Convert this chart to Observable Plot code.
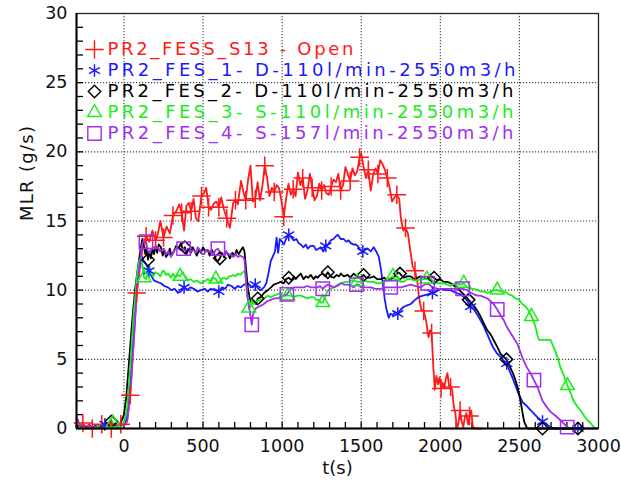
<!DOCTYPE html>
<html>
<head>
<meta charset="utf-8">
<script src="https://cdn.jsdelivr.net/npm/d3@7"></script>
<script src="https://cdn.jsdelivr.net/npm/@observablehq/plot@0.6"></script>
<style>
  html, body { margin: 0; padding: 0; background: #fff; }
  #chart svg { display: block; }
</style>
</head>
<body>
<div id="chart"></div>
<script>
// Mass loss rate (g/s) against time (s), one [t, MLR] list per test.
const s13 = [[-300,0.3],[-280,0.1],[-260,0.4],[-240,0.1],[-220,0.3],[-200,0.0],[-180,0.2],[-160,0.0],[-140,0.3],[-120,0.1],[-100,0.2],[-80,0.0],[-60,0.2],[-40,0.1],[-20,0.3],[0,0.2],[20,0.6],[40,2.4],[60,6.0],[80,9.8],[100,11.5],[120,13.2],[140,13.9],[160,13.5],[180,14.3],[200,13.6],[215,14.1],[230,15.0],[250,13.8],[270,14.6],[290,14.1],[310,15.4],[330,15.7],[350,16.2],[365,15.6],[380,14.3],[395,16.1],[410,16.3],[425,15.7],[440,16.6],[455,15.2],[470,15.0],[490,16.8],[505,17.0],[520,17.4],[535,16.0],[550,15.8],[570,16.3],[585,16.4],[600,16.0],[615,16.7],[630,15.9],[650,15.2],[670,14.5],[690,16.3],[705,16.5],[720,16.2],[740,17.9],[755,17.1],[770,16.5],[785,18.0],[800,19.0],[815,16.4],[830,16.6],[845,17.8],[860,16.5],[875,17.5],[890,19.0],[905,18.1],[920,16.8],[935,17.4],[950,17.1],[965,17.6],[980,17.4],[995,16.5],[1010,15.3],[1025,16.6],[1040,17.7],[1055,16.9],[1070,17.3],[1085,16.8],[1100,18.5],[1115,17.6],[1130,18.1],[1145,16.6],[1160,17.2],[1175,18.4],[1190,17.4],[1205,16.5],[1220,16.8],[1235,17.7],[1250,17.2],[1265,17.6],[1280,17.0],[1295,16.9],[1310,17.5],[1325,18.0],[1340,17.8],[1355,18.4],[1370,17.2],[1385,17.6],[1400,18.9],[1415,18.4],[1430,17.9],[1445,18.8],[1460,18.3],[1475,18.6],[1490,19.6],[1500,19.9],[1515,18.9],[1530,18.1],[1545,18.7],[1560,17.2],[1575,18.3],[1590,18.8],[1605,18.4],[1620,19.4],[1635,19.1],[1650,18.7],[1665,18.1],[1680,17.4],[1695,16.4],[1710,16.7],[1725,16.9],[1740,16.6],[1750,15.3],[1765,14.3],[1780,14.5],[1795,14.1],[1810,12.9],[1825,11.7],[1840,11.4],[1855,10.6],[1865,9.5],[1880,8.6],[1895,8.5],[1910,7.8],[1925,6.6],[1935,7.1],[1945,6.9],[1955,4.6],[1965,2.8],[1975,3.8],[1985,3.2],[1995,3.7],[2005,2.9],[2015,3.3],[2025,2.9],[2035,3.6],[2045,4.0],[2055,3.1],[2065,3.0],[2075,2.8],[2085,1.6],[2095,1.1],[2105,0.0],[2115,0.4],[2125,1.3],[2135,0.5],[2145,0.1],[2155,0.8],[2165,1.1],[2175,0.3],[2185,0.9],[2195,1.3],[2205,0.2],[2215,0.0],[2260,0.0]];

const fes1 = [[-300,0.2],[-280,0.0],[-260,0.1],[-240,0.0],[-220,0.1],[-200,0.0],[-180,0.2],[-160,0.1],[-140,0.0],[-120,0.3],[-100,0.2],[-80,0.4],[-60,0.1],[-40,0.3],[-20,0.2],[0,0.3],[20,0.8],[40,3.5],[60,7.5],[80,10.5],[100,11.8],[115,12.4],[125,12.1],[140,11.9],[158,11.4],[175,11.0],[190,10.7],[210,10.6],[234,10.5],[255,10.3],[278,10.2],[300,10.0],[320,10.1],[341,9.8],[360,9.9],[380,10.2],[400,10.0],[420,10.2],[442,10.1],[465,9.9],[486,10.0],[510,10.1],[530,9.9],[549,10.1],[575,10.0],[600,9.9],[620,10.2],[640,10.1],[657,10.4],[680,10.3],[700,10.1],[720,10.3],[739,10.2],[760,10.4],[783,10.5],[800,10.3],[814,10.2],[830,10.4],[850,10.1],[865,10.0],[885,10.2],[900,10.5],[915,11.3],[928,12.1],[940,12.4],[955,12.8],[965,13.8],[975,12.7],[985,13.7],[1000,13.5],[1011,13.3],[1025,13.7],[1042,14.0],[1060,13.8],[1074,13.6],[1090,13.7],[1105,13.4],[1118,13.3],[1135,13.1],[1150,13.3],[1162,13.0],[1180,13.2],[1200,13.2],[1215,12.9],[1230,13.0],[1244,13.1],[1260,12.8],[1276,13.2],[1290,13.3],[1307,13.6],[1325,13.7],[1340,13.9],[1352,14.0],[1370,13.7],[1389,13.7],[1405,13.5],[1420,13.6],[1434,13.4],[1450,13.3],[1465,13.3],[1478,13.2],[1495,12.9],[1510,12.8],[1525,13.0],[1541,13.0],[1560,12.8],[1579,13.1],[1595,12.8],[1611,12.4],[1625,11.5],[1636,10.5],[1648,9.4],[1660,8.6],[1674,8.0],[1685,8.3],[1699,8.2],[1715,8.4],[1731,8.3],[1750,8.6],[1769,8.8],[1790,8.9],[1813,9.0],[1840,9.3],[1863,9.5],[1890,9.6],[1920,9.7],[1950,9.8],[1975,9.9],[2002,10.1],[2030,10.0],[2065,10.0],[2100,9.8],[2128,9.7],[2150,9.5],[2172,9.2],[2191,8.8],[2212,8.6],[2235,8.2],[2255,7.8],[2274,7.4],[2297,6.8],[2320,6.2],[2337,5.8],[2360,5.4],[2380,5.2],[2402,4.9],[2420,4.7],[2440,4.1],[2455,3.7],[2475,3.1],[2495,2.5],[2520,1.9],[2540,1.7],[2565,1.4],[2590,1.1],[2615,0.8],[2646,0.5],[2670,0.3],[2697,0.1],[2720,0.0],[2870,0.0],[2900,0.0]];

const fes2 = [[-300,0.1],[-280,0.2],[-260,0.0],[-240,0.1],[-220,0.0],[-200,0.1],[-180,0.0],[-160,0.2],[-140,0.1],[-120,0.0],[-100,0.3],[-80,0.5],[-60,0.3],[-40,0.2],[-20,0.4],[0,1.0],[15,2.3],[30,4.5],[50,7.5],[70,10.0],[90,11.8],[107,13.1],[117,13.7],[126,13.2],[135,12.6],[143,13.1],[152,12.2],[160,12.8],[170,12.3],[180,13.0],[190,12.6],[200,13.2],[210,12.7],[220,13.3],[234,13.1],[245,12.5],[256,12.9],[266,12.4],[278,12.6],[290,13.0],[300,12.5],[316,12.8],[330,13.2],[345,13.0],[360,13.4],[372,12.9],[385,13.1],[395,12.6],[410,13.0],[423,12.7],[435,13.1],[448,12.8],[460,12.5],[475,12.9],[486,12.7],[500,13.1],[515,12.8],[530,12.9],[542,12.5],[556,12.9],[570,12.6],[582,12.2],[594,12.1],[606,12.3],[620,12.7],[632,12.4],[645,12.8],[657,12.6],[670,12.3],[685,12.7],[700,12.5],[712,12.9],[725,12.6],[740,12.9],[752,13.1],[762,12.8],[772,11.5],[783,10.2],[795,9.4],[805,9.0],[821,9.2],[835,9.0],[846,9.4],[865,9.5],[885,9.8],[909,10.0],[930,10.2],[947,10.4],[970,10.5],[991,10.6],[1010,10.5],[1025,10.8],[1042,10.9],[1060,10.7],[1074,11.0],[1086,10.8],[1100,11.0],[1118,11.2],[1135,10.8],[1150,11.0],[1165,10.9],[1181,11.1],[1200,10.8],[1212,11.0],[1225,10.9],[1240,11.1],[1257,11.2],[1273,11.0],[1289,11.3],[1305,11.0],[1326,10.9],[1345,11.1],[1360,11.0],[1371,11.2],[1390,11.0],[1415,11.1],[1430,10.9],[1453,11.2],[1470,11.0],[1497,10.9],[1515,11.1],[1530,10.9],[1560,10.9],[1580,11.0],[1600,10.8],[1623,10.8],[1645,10.9],[1665,10.7],[1686,10.8],[1705,10.9],[1720,11.1],[1731,11.3],[1745,11.2],[1760,11.0],[1769,10.9],[1790,11.0],[1813,11.0],[1835,10.8],[1857,10.9],[1875,11.0],[1895,10.9],[1915,10.8],[1939,11.0],[1960,10.9],[1983,10.7],[2000,10.8],[2021,10.6],[2045,10.6],[2065,10.5],[2090,10.3],[2110,10.1],[2130,9.9],[2148,9.7],[2165,9.5],[2179,9.3],[2200,9.0],[2223,8.7],[2240,8.4],[2254,8.1],[2275,7.6],[2297,7.1],[2318,6.8],[2337,6.4],[2360,5.9],[2381,5.4],[2400,5.2],[2418,5.0],[2435,4.6],[2455,4.1],[2472,3.6],[2488,3.0],[2500,2.4],[2510,1.8],[2520,1.1],[2530,0.5],[2545,0.1],[2555,0.0],[2646,0.0],[2870,0.0],[2900,0.0]];

const fes3 = [[-300,0.0],[-280,0.1],[-260,0.0],[-240,0.0],[-220,0.1],[-200,0.0],[-180,0.1],[-160,0.2],[-140,0.1],[-120,0.0],[-100,0.3],[-80,0.6],[-70,0.4],[-60,0.2],[-40,0.5],[-20,0.3],[0,0.4],[20,1.5],[40,4.5],[60,8.0],[80,10.8],[95,12.1],[108,12.4],[120,11.5],[128,10.9],[140,10.8],[152,11.3],[162,11.7],[172,11.2],[185,11.0],[198,11.3],[215,11.2],[230,11.0],[245,11.4],[253,11.4],[265,11.1],[280,11.2],[297,10.9],[310,11.2],[325,10.9],[341,11.1],[355,11.0],[373,11.3],[385,11.0],[395,10.9],[404,10.7],[420,10.8],[442,10.6],[460,10.7],[486,10.5],[505,10.6],[530,10.8],[550,10.6],[565,10.9],[581,10.8],[590,10.6],[600,10.5],[615,10.8],[632,10.9],[650,10.8],[665,11.0],[676,11.0],[690,11.1],[705,11.0],[720,11.2],[735,11.1],[752,11.3],[765,11.4],[772,10.5],[783,9.3],[790,8.7],[800,8.8],[812,9.2],[821,9.0],[840,9.2],[865,9.3],[885,9.4],[909,9.6],[928,9.5],[947,9.6],[970,9.7],[991,9.8],[1010,9.6],[1036,9.6],[1055,9.6],[1074,9.5],[1095,9.6],[1118,9.6],[1140,9.5],[1162,9.4],[1180,9.5],[1200,9.5],[1215,9.3],[1232,9.3],[1245,9.1],[1257,9.1],[1270,9.5],[1289,10.0],[1305,10.1],[1326,10.2],[1350,10.4],[1371,10.5],[1395,10.6],[1415,10.6],[1435,10.7],[1453,10.7],[1475,10.6],[1497,10.6],[1520,10.7],[1541,10.6],[1560,10.6],[1579,10.6],[1600,10.5],[1623,10.5],[1645,10.6],[1665,10.8],[1686,10.9],[1700,11.0],[1715,10.8],[1731,10.7],[1750,10.6],[1769,10.6],[1790,10.8],[1813,10.8],[1835,10.7],[1857,10.7],[1875,10.8],[1895,10.8],[1915,10.8],[1939,10.7],[1960,10.6],[1983,10.5],[2002,10.5],[2021,10.5],[2045,10.4],[2065,10.3],[2090,10.5],[2110,10.5],[2128,10.4],[2148,10.5],[2170,10.2],[2191,10.1],[2212,10.1],[2235,10.0],[2255,9.9],[2276,9.9],[2300,9.8],[2318,9.9],[2340,10.0],[2360,10.0],[2380,9.9],[2402,9.9],[2420,9.8],[2434,9.7],[2455,9.6],[2476,9.4],[2497,9.3],[2518,9.0],[2540,8.8],[2560,8.5],[2576,8.1],[2592,7.7],[2605,7.2],[2615,6.7],[2623,6.4],[2697,6.4],[2715,5.9],[2730,5.5],[2745,5.0],[2760,4.4],[2782,3.8],[2804,3.1],[2822,2.6],[2842,2.0],[2865,1.6],[2887,1.3],[2910,0.9],[2930,0.6],[2950,0.4],[2970,0.1],[2990,0.0]];

const fes4 = [[-300,0.8],[-290,0.6],[-280,0.2],[-260,0.3],[-240,0.0],[-220,0.2],[-200,0.0],[-180,0.1],[-160,0.0],[-140,0.1],[-120,0.2],[-100,0.0],[-80,0.1],[-60,0.3],[-40,0.2],[-20,0.3],[0,0.2],[20,0.5],[40,2.5],[60,6.0],[80,9.5],[100,12.0],[115,13.3],[125,13.6],[139,13.5],[150,12.9],[160,12.6],[170,12.9],[185,13.1],[200,13.0],[215,13.1],[230,12.8],[253,13.0],[265,12.6],[280,12.8],[297,12.4],[310,12.7],[325,13.0],[341,13.1],[355,12.9],[377,13.0],[390,12.8],[405,13.0],[423,12.8],[440,12.9],[455,12.7],[467,13.1],[480,12.9],[495,12.6],[505,12.6],[520,12.9],[535,12.8],[549,12.8],[565,12.6],[580,12.9],[594,13.0],[610,12.7],[632,12.5],[645,12.8],[660,12.6],[676,12.6],[690,12.4],[705,12.6],[720,12.4],[735,12.5],[752,12.4],[762,12.2],[771,10.8],[780,9.6],[790,8.9],[800,8.1],[808,7.5],[815,8.2],[821,8.4],[835,8.7],[853,8.8],[870,8.9],[884,9.0],[905,9.2],[928,9.3],[950,9.4],[972,9.4],[990,9.5],[1011,9.6],[1030,9.7],[1055,10.1],[1075,10.2],[1099,10.2],[1120,10.2],[1137,10.2],[1160,10.3],[1181,10.2],[1205,10.2],[1225,10.2],[1240,10.3],[1257,10.1],[1275,10.3],[1289,10.4],[1310,10.3],[1326,10.2],[1350,10.3],[1371,10.5],[1395,10.4],[1415,10.4],[1435,10.3],[1453,10.2],[1470,10.4],[1484,10.4],[1497,10.2],[1530,10.2],[1560,10.2],[1590,10.1],[1623,10.1],[1655,10.2],[1686,10.2],[1720,10.2],[1750,10.2],[1780,10.3],[1813,10.4],[1845,10.3],[1876,10.2],[1900,10.4],[1920,10.5],[1950,10.2],[1983,10.1],[2015,10.1],[2046,10.1],[2080,10.1],[2110,10.1],[2141,10.1],[2172,10.0],[2195,9.8],[2212,9.7],[2235,9.6],[2254,9.6],[2276,9.5],[2298,9.4],[2318,9.2],[2337,9.0],[2360,8.6],[2380,8.2],[2402,7.8],[2423,7.3],[2444,6.9],[2466,6.5],[2488,6.1],[2507,5.5],[2526,4.9],[2548,4.4],[2570,4.0],[2592,3.5],[2614,3.0],[2630,2.5],[2646,2.0],[2670,1.6],[2697,1.2],[2730,0.9],[2760,0.6],[2785,0.3],[2802,0.1],[2830,0.0],[2995,0.0]];

// Sample times that carry a plot symbol, per test
const markS13 = [-260,-200,-140,-80,-20,40,80,140,200,250,310,365,425,490,535,600,650,705,770,830,890,950,1010,1070,1130,1190,1250,1310,1370,1430,1490,1545,1605,1665,1725,1780,1840,1895,1945,2005,2065,2125,2185];
const markFes1 = [-120,158,380,600,830,1042,1276,1510,1731,1950,2191,2420,2646,2870];
const markFes2 = [-80,152,385,606,846,1042,1289,1515,1745,1960,2179,2418,2646,2870];
const markFes3 = [-70,128,355,581,790,1036,1257,1475,1700,1915,2148,2360,2576,2804];
const markFes4 = [139,377,594,808,1030,1257,1470,1686,1920,2141,2360,2592,2802];

const legendLabels = [
  "PR2_FESS_S13 - Open",
  "PR2_FES_1- D-110l/min-2550m3/h",
  "PR2_FES_2- D-110l/min-2550m3/h",
  "PR2_FES_3- S-110l/min-2550m3/h",
  "PR2_FES_4- S-157l/min-2550m3/h"
];

const xTicks = [0, 500, 1000, 1500, 2000, 2500, 3000];
const yTicks = [0, 5, 10, 15, 20, 25, 30];
const xMinor = d3.range(-200, 3000, 100);
const yMinor = d3.range(1, 30, 1);

// Styling
const colors  = ["#ff1a1a", "#1a1aff", "#000000", "#1aee1a", "#a030ee"];
const symbols = ["plus", "asterisk", "diamond2", "triangle2", "square2"];
const radii   = [6, 6, 5.6, 6.5, 8.5];
const legendTextLength = [246, 408, 406, 406, 406];

const W = 621, H = 485;
const M = {top: 13, right: 23, bottom: 57, left: 76};
const innerW = W - M.left - M.right;
const innerH = H - M.top - M.bottom;
const FONT = "DejaVu Sans";

const seriesData = [s13, fes1, fes2, fes3, fes4];
const seriesMarks = [markS13, markFes1, markFes2, markFes3, markFes4];

// dotted grey grid at the major ticks
const grid = {stroke: "#444", strokeWidth: 1.1, strokeDasharray: "1.2,1.8"};

const lineMarks = seriesData.map((data, i) =>
  Plot.line(data, {x: d => d[0], y: d => d[1], stroke: colors[i], strokeWidth: 1.8})
);
const symbolMarks = seriesData.map((data, i) =>
  Plot.dot(data.filter(d => seriesMarks[i].includes(d[0])), {
    x: d => d[0], y: d => d[1], symbol: symbols[i], r: radii[i],
    stroke: colors[i], fill: "none", strokeWidth: 1.5
  })
);
const legendMarks = legendLabels.flatMap((label, i) => [
  Plot.dot([label], {frameAnchor: "top-left", dx: 18, dy: 36 + i * 21,
    symbol: symbols[i], r: radii[i], stroke: colors[i], fill: "none", strokeWidth: 1.4}),
  Plot.text([label], {frameAnchor: "top-left", dx: 31, dy: 36 + i * 21,
    textAnchor: "start", lineAnchor: "middle", fill: colors[i], fontSize: 18,
    className: "legend-label"})
]);

const chart = Plot.plot({
  width: W, height: H,
  marginTop: M.top, marginRight: M.right, marginBottom: M.bottom, marginLeft: M.left,
  style: {fontFamily: FONT, background: "#fff", overflow: "visible"},
  x: {domain: [-300, 3000], axis: null},
  y: {domain: [0, 30], axis: null},
  marks: [
    Plot.ruleX(xTicks.slice(0, -1), grid),
    Plot.ruleY(yTicks.slice(1, -1), grid),
    Plot.tickX(xMinor, {x: d => d, insetTop: innerH - 6, stroke: "#000", strokeWidth: 1.3}),
    Plot.tickY(yMinor, {y: d => d, insetRight: innerW - 7, stroke: "#000", strokeWidth: 1.3}),
    ...lineMarks,
    ...symbolMarks,
    Plot.frame({stroke: "#222", strokeWidth: 1.3}),
    Plot.ruleX([-300], {stroke: "#000", strokeWidth: 2}),
    Plot.ruleY([0], {stroke: "#000", strokeWidth: 2}),
    Plot.text(xTicks, {x: d => d, frameAnchor: "bottom", dy: 23, text: d => String(d),
      fontSize: 17.5, fill: "#111"}),
    Plot.text(yTicks, {y: d => d, frameAnchor: "left", dx: -9, textAnchor: "end",
      text: d => String(d), fontSize: 17.5, fill: "#111"}),
    Plot.text(["t(s)"], {frameAnchor: "bottom", dy: 45, fontSize: 18, fill: "#111"}),
    Plot.text(["MLR (g/s)"], {frameAnchor: "left", dx: -49, rotate: -90, fontSize: 18,
      fill: "#111", className: "y-title"}),
    ...legendMarks
  ]
});

// Stretch the legend and title strings to the wide lettering of the figure
d3.select(chart).selectAll("g.legend-label").each(function (_, i) {
  d3.select(this).selectAll("text")
    .attr("textLength", legendTextLength[i]).attr("lengthAdjust", "spacing");
});
d3.select(chart).selectAll("g.y-title text")
  .attr("textLength", 95).attr("lengthAdjust", "spacing");

document.getElementById("chart").appendChild(chart);
</script>
</body>
</html>
